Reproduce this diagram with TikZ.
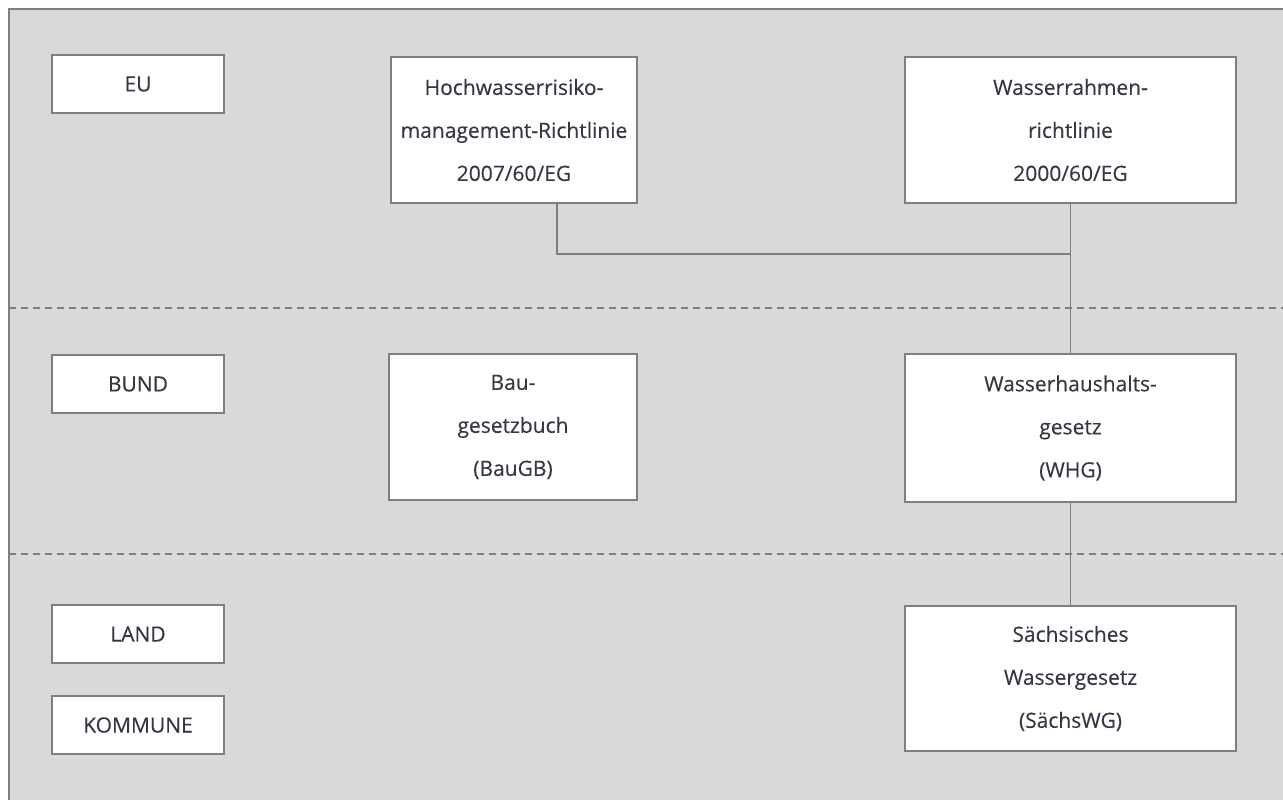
\documentclass[tikz,border=0pt]{standalone}
\usepackage{fontspec}
\setmainfont{Open Sans}[FakeBold=0.3]
\usepackage{xcolor}
\definecolor{fondo}{HTML}{D9D9D9}
\definecolor{borde}{HTML}{7B7F86}
\definecolor{texto}{HTML}{343842}

\tikzset{
  caja/.style={draw=borde, line width=1.5pt, fill=white, text=texto,
    align=center, inner sep=0pt, font=\fontsize{21}{43}\selectfont},
  nivel/.style={caja, minimum width=172pt, minimum height=58pt},
  ley/.style={caja, minimum height=146pt},
  linea/.style={draw=borde, line width=1.5pt},
  limite/.style={draw=borde, line width=1.3pt, dash pattern=on 7pt off 5pt}
}

\begin{document}
\begin{tikzpicture}[x=1pt,y=-1pt]
        \useasboundingbox (0,0) rectangle (1283,800);

        % Paso 1: Fondo gris con su marco
        \draw[fill=fondo, draw=borde, line width=1.5pt] (9,9) rectangle (1295,815);

        % Paso 2: Lineas de separacion entre niveles
        \draw[limite] (9,308) -- (1283,308);
        \draw[limite] (9,554) -- (1283,554);

        % Paso 3: Cajas de los niveles a la izquierda
        \node[nivel] (EU) at (138,84) {EU};
        \node[nivel] (BUND) at (138,384) {BUND};
        \node[nivel] (LAND) at (138,634) {LAND};
        \node[nivel] (KOM) at (138,725) {KOMMUNE};

        % Paso 4: Directivas de la UE
        \node[ley, minimum width=246pt] (HWRM) at (514,130)
          {Hochwasserrisiko-\\management-Richtlinie\\2007/60/EG};
        \node[ley, minimum width=331pt] (WRRL) at (1070.5,130)
          {Wasserrahmen-\\richtlinie\\2000/60/EG};

        % Paso 5: Leyes federales
        \node[ley, minimum width=248pt] (BauGB) at (513,427)
          {Bau-\\gesetzbuch\\(BauGB)};
        \node[ley, minimum width=331pt, minimum height=148pt] (WHG) at (1070.5,428)
          {Wasserhaushalts-\\gesetz\\(WHG)};

        % Paso 6: Ley del estado federado
        \node[ley, minimum width=331pt, minimum height=145pt] (SWG) at (1070.5,678.5)
          {Sächsisches\\Wassergesetz\\(SächsWG)};

        % Paso 7: Conexiones entre las normas
        \coordinate (J) at (WRRL.south |- 0,254);
        \draw[linea] ([xshift=43pt]HWRM.south) |- (J);
        \draw[linea] (WRRL.south) -- (WHG.north);
        \draw[linea] (WHG.south) -- (SWG.north);
\end{tikzpicture}
\end{document}
